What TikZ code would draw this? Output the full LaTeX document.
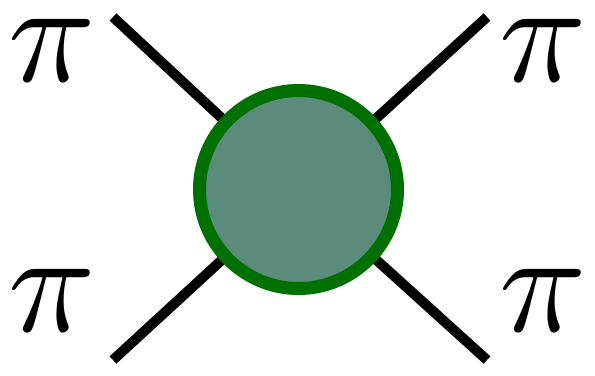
\documentclass[tikz,border=0pt]{standalone}
\usepackage{graphicx}
\usepackage{tikz}
\usepackage{xcolor}
\usetikzlibrary{positioning}
\definecolor{blobfill}{HTML}{5B8B7A}
\definecolor{blobedge}{HTML}{007000}
\newcommand{\bigpi}{\scalebox{8.2}{$\pi$}}

\begin{document}
\begin{tikzpicture}[
    leg/.style={line width=5.7pt,black},
    blob/.style={circle,draw=blobedge,fill=blobfill,line width=7.4pt,
                 minimum size=3.96cm,inner sep=0pt},
    pion/.style={inner sep=0pt}]
    \useasboundingbox (0,0) rectangle (11.9,7.5);
    \coordinate (c) at (5.97,3.71);
    \coordinate (ul) at (2.26,7.16);
    \coordinate (ll) at (2.26,0.30);
    \coordinate (ur) at (9.74,7.16);
    \coordinate (lr) at (9.74,0.30);
    \draw[leg] (ul)--(c);
    \draw[leg] (ll)--(c);
    \draw[leg] (ur)--(c);
    \draw[leg] (lr)--(c);
    \node[blob] (amp) at (c) {};
    \node[pion] (pul) at (1.04,6.5) {\bigpi};
    \node[pion] (pll) at (1.04,1.5) {\bigpi};
    \node[pion] (pur) at (10.86,6.5) {\bigpi};
    \node[pion] (plr) at (10.86,1.5) {\bigpi};
\end{tikzpicture}
\end{document}
